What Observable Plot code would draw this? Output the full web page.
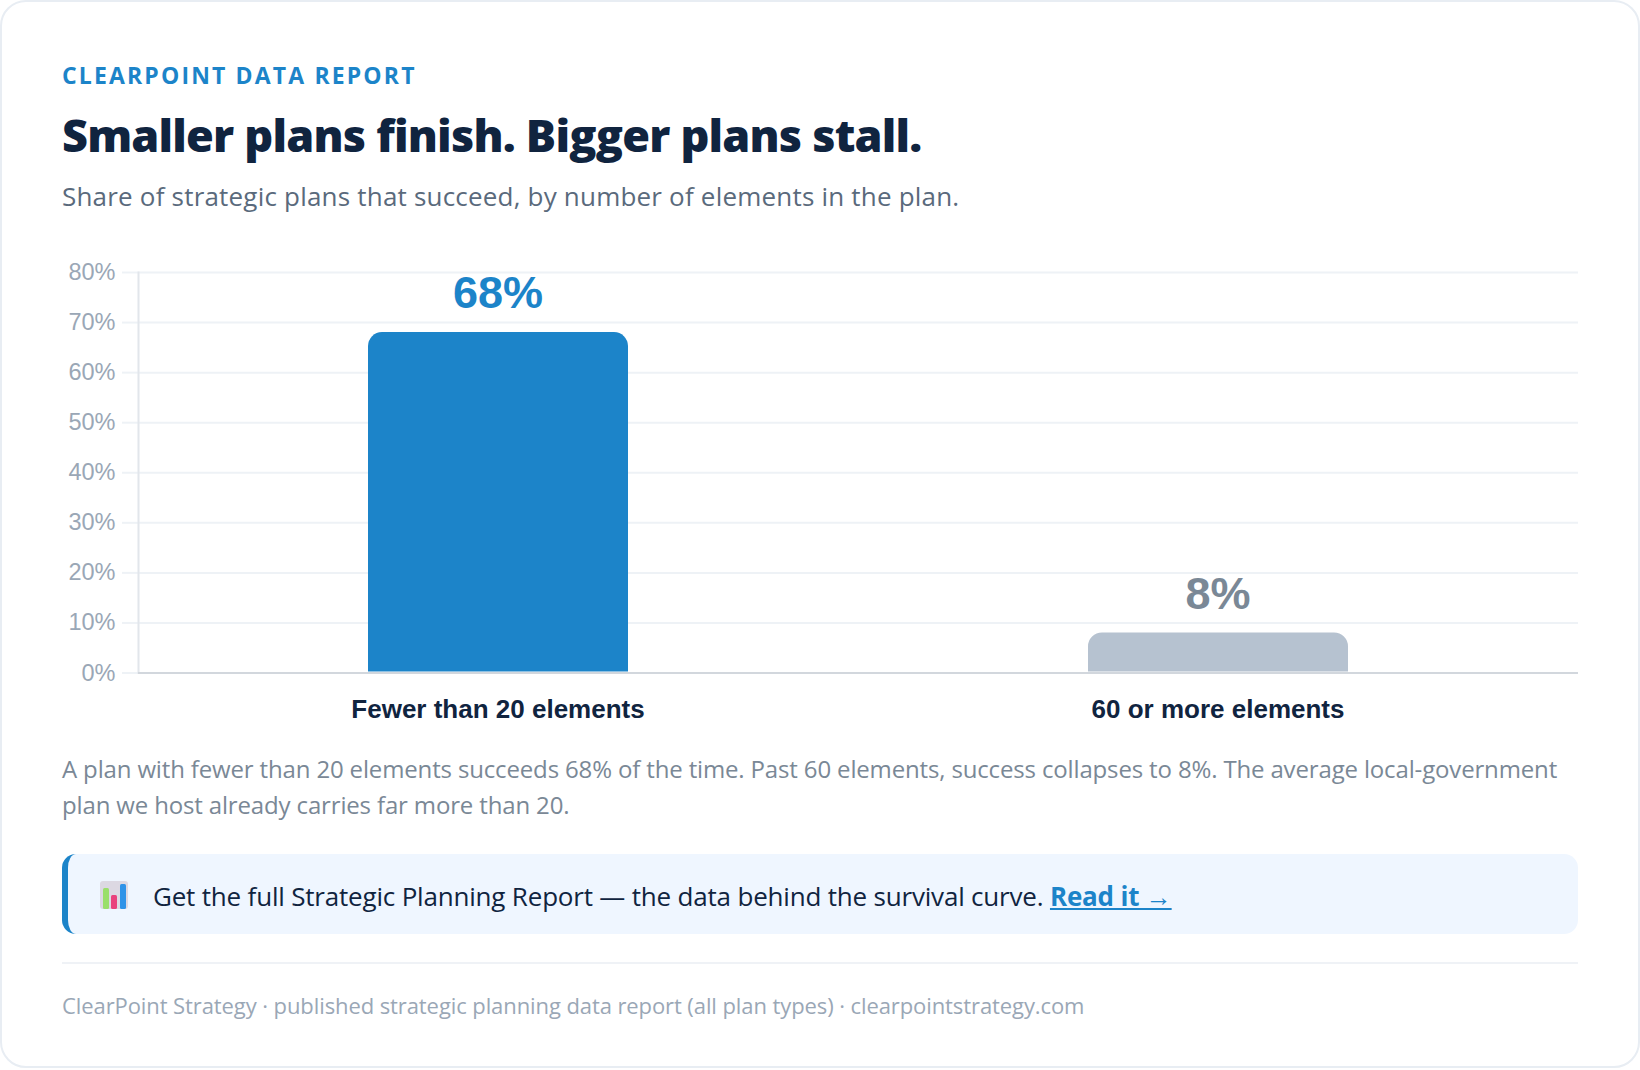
<!DOCTYPE html>
<html><head><meta charset="utf-8">
<script src="https://cdn.jsdelivr.net/npm/d3@7"></script>
<script src="https://cdn.jsdelivr.net/npm/@observablehq/plot@0.6"></script>
<style>
html,body{margin:0;padding:0;background:#fff;}
#card{position:relative;width:1636px;height:1064px;border:2px solid #e8edf3;border-radius:26px;background:#fff;overflow:hidden;font-family:"Open Sans",sans-serif;}
.t{position:absolute;left:60px;white-space:nowrap;}
#eyebrow{top:58px;font-size:23px;font-weight:700;letter-spacing:2.15px;color:#1c84c9;line-height:30px;}
#title{top:104px;font-size:45px;font-weight:800;letter-spacing:-.8px;color:#10243f;line-height:58px;}
#sub{top:177px;font-size:26px;color:#5a6a7c;line-height:34px;letter-spacing:.2px;}
#plot{position:absolute;left:-2px;top:236px;width:1640px;}
#note{top:749px;font-size:24px;color:#7a8896;line-height:36px;letter-spacing:-.15px;}
#call{position:absolute;left:60px;top:852px;width:1516px;height:80px;box-sizing:border-box;background:#eff6ff;border-left:6px solid #1c84c9;border-radius:14px;}
#call svg{position:absolute;left:32px;top:27px;}
#calltext{position:absolute;left:85px;top:24px;font-size:26px;line-height:36px;color:#10243f;white-space:nowrap;letter-spacing:-.19px;}
#calltext a{color:#1c84c9;font-weight:700;}
#rule{position:absolute;left:60px;top:960px;width:1516px;height:2px;background:#eff2f6;}
#foot{top:987px;font-size:22px;color:#9aa7b6;line-height:32px;letter-spacing:-.09px;}
</style></head><body>
<div id="card">
<div class="t" id="eyebrow">CLEARPOINT DATA REPORT</div>
<div class="t" id="title">Smaller plans finish. Bigger plans stall.</div>
<div class="t" id="sub">Share of strategic plans that succeed, by number of elements in the plan.</div>
<div id="plot"></div>
<div class="t" id="note">A plan with fewer than 20 elements succeeds 68% of the time. Past 60 elements, success collapses to 8%. The average local-government<br>plan we host already carries far more than 20.</div>
<div id="call"><svg width="28" height="28" viewBox="0 0 28 28"><rect width="28" height="28" rx="3" fill="#dcd8e2"/><rect x="3" y="7" width="6" height="21" rx="1.5" fill="#9adf6a"/><rect x="11" y="14" width="6" height="14" rx="1.5" fill="#e9407c"/><rect x="20" y="3" width="6" height="25" rx="1.5" fill="#2f93e8"/></svg>
<div id="calltext">Get the full Strategic Planning Report — the data behind the survival curve. <a href="#">Read it →</a></div></div>
<div id="rule"></div>
<div class="t" id="foot">ClearPoint Strategy · published strategic planning data report (all plan types) · clearpointstrategy.com</div>
</div>
<script>
const categories = ["Fewer than 20 elements", "60 or more elements"];
const successRates = [68, 8];
const barColors = ["#1c84c9", "#b6c2d0"];
const labelColors = ["#1c84c9", "#7a8896"];
const yTicks = [0, 10, 20, 30, 40, 50, 60, 70, 80];
const rows = categories.map((category, i) => ({category, value: successRates[i], bar: barColors[i], label: labelColors[i]}));
const chart = Plot.plot({
  width: 1640, height: 490,
  marginLeft: 138, marginRight: 62, marginTop: 34, marginBottom: 55.5,
  style: {fontFamily: '"Liberation Sans", Arial, sans-serif', background: "transparent", overflow: "visible", maxWidth: "none"},
  x: {domain: categories, paddingInner: 0.64, paddingOuter: 0.32, label: null},
  y: {domain: [0, 80], label: null},
  marks: [
    Plot.gridY(yTicks, {stroke: "#eef2f6", strokeOpacity: 1, strokeWidth: 2}),
    Plot.axisY({ticks: yTicks, tickSize: 16, tickPadding: 7, stroke: "#eef2f6", strokeWidth: 2, strokeOpacity: 1, fill: "#9aa7b6", fontSize: 23.5, tickFormat: d => d + "%", label: null}),
    Plot.frame({anchor: "left", stroke: "#e2e6eb", strokeWidth: 2}),
    Plot.barY(rows, {x: "category", y: "value", fill: "bar", ry1: 14, rx: 14, insetBottom: 1, insetRight: -1}),
    Plot.ruleY([0], {stroke: "#d2d7dd", strokeWidth: 2}),
    Plot.text(rows, {x: "category", y: "value", text: d => d.value + "%", fill: "label", fontSize: 45, fontWeight: 700, dy: -38.5}),
    Plot.axisX({tickSize: 0, tickPadding: 27, fill: "#10243f", fontSize: 26, fontWeight: 700, label: null, stroke: "none"})
  ]
});
document.getElementById("plot").append(chart);
</script>
</body></html>
